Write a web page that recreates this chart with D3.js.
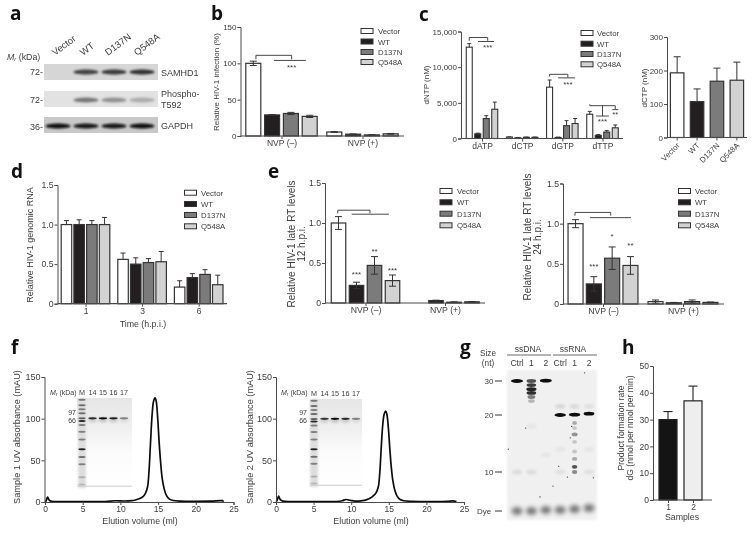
<!DOCTYPE html>
<html><head><meta charset="utf-8">
<style>
html,body{margin:0;padding:0;background:#fff}
svg{display:block;font-family:"Liberation Sans",Arial,sans-serif;filter:blur(0.3px)}
text{fill:#3c3c3c}
</style>
<script src="https://cdn.jsdelivr.net/npm/d3@7/dist/d3.min.js"></script>
</head><body><div id="chart"></div>
<script>
// ---------- data ----------
const seriesNames = ["Vector","WT","D137N","Q548A"];
const seriesFill = ["#ffffff","#231f20","#7b7b7b","#d2d2d2"];

const bGroups = ["NVP (–)","NVP (+)"];
const bValues = [[100,29,31,27],[5.5,2.5,1.5,3]];
const bErrors = [[3,0.5,1.5,1.5],[0.5,0.3,0.3,0.5]];

const cGroups = ["dATP","dCTP","dGTP","dTTP"];
const cValues = [[12800,650,2800,4100],[200,100,170,170],[7200,150,1800,2100],[3400,450,900,1500]];
const cErrors = [[500,100,400,1000],[30,30,30,30],[1000,40,700,700],[400,100,200,400]];

const c2Values = [[193,107,168,171]];
const c2Errors = [[48,38,39,54]];

const dGroups = ["1","3","6"];
const dValues = [[1.0,1.0,1.0,1.0],[0.56,0.50,0.52,0.53],[0.21,0.33,0.37,0.24]];
const dErrors = [[0.05,0.06,0.05,0.09],[0.08,0.08,0.05,0.13],[0.08,0.05,0.06,0.12]];

const e1Values = [[1.0,0.22,0.47,0.28],[0,0.03,0.01,0.015]];
const e1Errors = [[0.08,0.04,0.11,0.07],[0,0.005,0.005,0.003]];
const e2Values = [[1.0,0.25,0.57,0.48],[0.03,0.015,0.03,0.02]];
const e2Errors = [[0.05,0.09,0.14,0.11],[0.02,0.005,0.02,0.005]];

const hNames = ["1","2"];
const hValues = [30,37];
const hErrors = [3,5.5];
const hFill = ["#141414","#eeeeee"];

// significance marks: [group, slot, value, slot, value]
const bMarks = [[0,-1.36,105.5,-1.36,111],[0,-1.36,111,0.54,111],[0,0.54,111,0.54,105.5],[0,-0.4,104,1.3,104]];
const bStars = [[0,0.54,96,"***"]];
const cMarks = [[0,-1.5,13700,-1.5,14160],[0,-1.5,14160,0.67,14160],[0,0.67,14160,0.67,13700],[0,-0.47,13600,1.41,13600],
 [2,-1.5,8700,-1.5,9000],[2,-1.5,9000,0.65,9000],[2,0.65,9000,0.65,8550],[2,-0.5,8500,1.5,8500],
 [3,-1.5,4800,-1.5,4600],[3,-1.5,4600,1.5,4600],[3,1.5,4600,1.5,4100],[3,0,4600,0,3150],[3,-0.75,3150,0.75,3150],[3,1.15,4050,1.85,4050]];
const cStars = [[0,0.67,12950,"***"],[2,0.65,7750,"***"],[3,0,2560,"***"],[3,1.5,3550,"**"]];
const e1Marks = [[0,-1.54,1.12,-1.54,1.16],[0,-1.54,1.16,0.25,1.16],[0,0.25,1.16,0.25,1.12],[0,-0.77,1.11,1.3,1.11]];
const e1Stars = [[0,-0.5,0.38,"***"],[0,0.5,0.66,"**"],[0,1.5,0.425,"***"]];
const e2Marks = [[0,-1.53,1.10,-1.53,1.14],[0,-1.53,1.14,0.42,1.14],[0,0.42,1.14,0.42,1.10],[0,-0.71,1.075,1.53,1.075]];
const e2Stars = [[0,-0.5,0.485,"***"],[0,0.5,0.86,"*"],[0,1.5,0.75,"**"]];

// size-exclusion traces: [volume ml, absorbance mAU]
const f1Trace = [[0,0.5],[0.12,1],[0.25,4],[0.33,6],[0.45,4],[0.6,1.8],[0.9,0.8],[2,0.5],[5,0.4],[8,0.6],[9.3,1.5],[10.5,1.2],[11.5,1.6],[12,2.4],[12.5,3.8],[13,6.5],[13.3,10],[13.6,18],[13.8,38],[14,72],[14.2,104],[14.4,121],[14.6,125],[14.75,121],[14.95,100],[15.15,70],[15.35,46],[15.55,28],[15.8,16],[16.1,8],[16.5,3.5],[17,1.8],[18,1],[20,0.8],[22,1],[23.5,1.6],[23.7,0.5]];
const f2Trace = [[0,0.5],[0.12,1.5],[0.25,5],[0.35,7],[0.45,5],[0.6,2.5],[0.9,1],[2,0.5],[5,0.4],[8,0.6],[8.8,1.5],[9.3,3],[9.9,2],[10.5,1],[11.5,1.6],[12,2.6],[12.5,4.5],[13,8],[13.3,11],[13.6,18],[13.8,35],[14,66],[14.2,93],[14.4,106],[14.6,109],[14.75,105],[14.95,88],[15.15,62],[15.35,40],[15.55,25],[15.8,14],[16.1,7],[16.5,3],[17,1.5],[18,0.8],[20,0.6],[22.8,0.8],[23.5,1.4],[24,0.6]];

// protein gels: mobility (0 top - 100 bottom) and darkness
const markerLanes = ["M","14","15","16","17"];
const markerMobility = [2,8,12.6,17,22.6,25.5,30,37.5,46,57,65.5,73.5,88,96];
const markerDarkness = [0.55,0.6,0.5,0.6,0.65,0.95,0.5,0.5,0.5,1,0.6,0.5,0.25,0.2];
const f1Sample = [0.85,1,0.9,0.45];
const f2Sample = [0.8,1,0.85,0.45];
const f1SampleMobility = 22.6;
const f2SampleMobility = 22.5;

// nuclease gel: [lane, nt, darkness, width factor]
const gLaneLabels = ["Ctrl","1","2","Ctrl","1","2"];
const gSizes = [30,20,10];
const gBands = [[0,30,1,1],[1,30,0.7,0.8],[1,28.8,0.8,0.8],[1,27.6,0.9,0.85],[1,26.5,0.85,0.8],[1,25.3,0.5,0.65],[1,24.1,0.25,0.55],[2,30.1,1,1],
 [3,20,1,0.95],[4,20.1,1,0.95],[5,20.4,1,0.9],
 [4,18.6,0.3,0.4],[4,17.7,0.18,0.4],[4,16.6,0.4,0.5],[4,15.3,0.18,0.4],[4,13.6,0.18,0.4],[4,12.3,0.3,0.45],[4,10.9,0.7,0.45],[4,10,0.45,0.45]];
const gFaint = [[0,10,0.1],[1,10,0.1],[3,10,0.08],[5,10,0.08],[3,22.5,0.12],[4,22.5,0.1],[5,22.5,0.08],[1,18,0.05],[2,13,0.05],[5,14,0.05],[3,14,0.05]];
const gDye = [[0,0],[1,0],[2,0.25],[3,0.25],[4,0.5],[5,0.75]];
const gSpecks = [[-0.6,14],[0.6,17.7],[3.8,18],[3.5,8.7],[2.5,6.4],[1.6,3.6],[5.3,8.5],[4.7,32.4],[3.7,16],[2.9,11]];

// western blots
const blotLanes = ["Vector","WT","D137N","Q548A"];
const blotSamhd1 = [0,0.8,0.85,0.9];
const blotPhospho = [0,0.6,0.45,0.3];
const blotGapdh = [1,0.95,0.95,1];

// ---------- helpers ----------
const W=754,H=533;
const svg=d3.select("#chart").append("svg").attr("width",W).attr("height",H).attr("viewBox",[0,0,W,H]);
const defs=svg.append("defs");
[["b05",0.6],["b1",1],["b2",2],["b3",3.5]].forEach(([id,s])=>defs.append("filter").attr("id",id)
  .attr("x","-50%").attr("y","-200%").attr("width","200%").attr("height","500%")
  .append("feGaussianBlur").attr("stdDeviation",s));
const AX="#4a4a4a";

function txt(g,x,y,s,o={}){
  const t=g.append("text").attr("x",x).attr("y",y).attr("font-size",o.size||8)
    .attr("text-anchor",o.anchor||"middle").text(s);
  if(o.rotate!==undefined) t.attr("transform",`rotate(${o.rotate},${x},${y})`);
  if(o.weight) t.attr("font-weight",o.weight);
  if(o.family) t.style("font-family",o.family);
  if(o.fill) t.style("fill",o.fill);
  return t;
}
function styleAxis(a){
  a.selectAll("path,line").attr("stroke",AX).attr("stroke-width",1);
  a.selectAll("text").style("font-family","inherit").attr("font-size",a.attr("data-size")||8).style("fill","#3c3c3c");
}
function legend(g,x,ys,textX){
  seriesNames.forEach((n,i)=>{
    g.append("rect").attr("x",x).attr("y",ys[i]-2.5).attr("width",12).attr("height",5)
      .attr("fill",seriesFill[i]).attr("stroke","#333").attr("stroke-width",1);
    txt(g,textX,ys[i]+3,n,{anchor:"start",size:7.8});
  });
}
function panel(c){
  const g=svg.append("g");
  const y=d3.scaleLinear().domain(c.domain).range(c.yRange);
  const x0=d3.scalePoint().domain(c.groups).range(c.groupCenters);
  const offset=d3.scaleLinear().domain([-1.5,1.5]).range([-1.5*c.step,1.5*c.step]);
  const base=y(0);
  c.values.forEach((row,gi)=>row.forEach((v,si)=>{
    const cx=x0(c.groups[gi])+offset(si-1.5), top=y(v), e=c.errors[gi][si];
    const col=c.barStroke||"#333";
    g.append("rect").attr("x",cx-c.width/2).attr("y",top).attr("width",c.width).attr("height",Math.max(0,base-top))
      .attr("fill",seriesFill[si]).attr("stroke",col).attr("stroke-width",c.sw||1.1);
    if(e>0){
      const hi=y(v+e), lo=c.both?y(Math.max(0,v-e)):top, cap=c.cap||2.5;
      g.append("line").attr("x1",cx).attr("x2",cx).attr("y1",hi).attr("y2",lo).attr("stroke",col).attr("stroke-width",1);
      g.append("line").attr("x1",cx-cap).attr("x2",cx+cap).attr("y1",hi).attr("y2",hi).attr("stroke",col).attr("stroke-width",1);
      if(c.both) g.append("line").attr("x1",cx-cap).attr("x2",cx+cap).attr("y1",lo).attr("y2",lo).attr("stroke",col).attr("stroke-width",1);
    }
  }));
  const ya=g.append("g").attr("transform",`translate(${c.axisX},0)`).attr("data-size",c.tickSize||8)
    .call(d3.axisLeft(y).tickValues(c.ticks).tickSize(3).tickPadding(1).tickFormat(c.fmt));
  styleAxis(ya);
  g.append("line").attr("x1",c.axisX).attr("x2",c.xEnd).attr("y1",base).attr("y2",base).attr("stroke",AX).attr("stroke-width",1.2);
  if(!c.noXTicks){
    const xa=g.append("g").attr("transform",`translate(0,${base})`)
      .call(d3.axisBottom(x0).tickSize(3).tickPadding(1));
    xa.select(".domain").remove();
    styleAxis(xa);
    xa.selectAll("text").attr("font-size",c.xSize||8);
  }
  const sx=(gi,s)=>x0(c.groups[gi])+offset(s);
  (c.marks||[]).forEach(m=>g.append("line").attr("x1",sx(m[0],m[1])).attr("y1",y(m[2]))
    .attr("x2",sx(m[0],m[3])).attr("y2",y(m[4])).attr("stroke","#333").attr("stroke-width",0.9));
  (c.stars||[]).forEach(s=>txt(g,sx(s[0],s[1]),y(s[2])+4,s[3],{size:8}));
  return {g,y,x0};
}

// ---------- panel letters ----------
const LF={size:19,weight:"700",family:"'Open Sans','Noto Sans',sans-serif",anchor:"start",fill:"#111"};
[["a",10,20],["b",211,20],["c",419,20.5],["d",11,178],["e",268,177.5],["f",11,354],["g",460,354],["h",622,354]]
  .forEach(([s,x,y])=>txt(svg,x,y,s,LF));

// ---------- a: western blots ----------
(function(){
  const g=svg.append("g");
  const lane=d3.scalePoint().domain(blotLanes).range([58,142]);
  const blots=[[blotSamhd1,64,72,"#d6d6d6",0,"#1a1a1a"],[blotPhospho,91,100,"#e2e2e2",0,"#333"],[blotGapdh,117,126,"#c8c8c8",0,"#0a0a0a"]];
  blots.forEach(([vals,top,cy,bg,_,col])=>{
    g.append("rect").attr("x",44).attr("y",top).attr("width",114).attr("height",16).attr("fill",bg).attr("filter","url(#b05)");
    vals.forEach((v,i)=>{ if(v>0) g.append("ellipse").attr("cx",lane(blotLanes[i])).attr("cy",cy)
      .attr("rx",12.5).attr("ry",2.6).attr("fill",col).attr("opacity",v).attr("filter","url(#b1)"); });
  });
  blotLanes.forEach((n,i)=>txt(g,[55,83,108,137][i],56,n,{anchor:"start",rotate:-37,size:9.5}));
  const mr=txt(g,7,60,"",{anchor:"start",size:8.8});
  mr.html('<tspan font-style="italic">M</tspan><tspan font-style="italic" font-size="6" dy="1">r</tspan><tspan dy="-1"> (kDa)</tspan>');
  [["72-",74.5],["72-",103],["36-",129.5]].forEach(([s,y])=>txt(g,43,y,s,{anchor:"end",size:9}));
  [["SAMHD1",75.5],["Phospho-",96.5],["T592",107.5],["GAPDH",129]].forEach(([s,y])=>txt(g,161,y,s,{anchor:"start",size:9}));
})();

// ---------- b ----------
panel({groups:bGroups,values:bValues,errors:bErrors,domain:[0,150],yRange:[136,27],groupCenters:[281.5,362.5],step:18.8,width:15,
  axisX:240.5,xEnd:404,ticks:[0,50,100,150],fmt:d3.format("d"),both:true,cap:3.5,marks:bMarks,stars:bStars,sw:1.2,xSize:8.5});
legend(svg,361,[31,41.5,52,62],378);
txt(svg,219,82,"Relative HIV-1 infection (%)",{rotate:-90,size:8});

// ---------- c ----------
panel({groups:cGroups,values:cValues,errors:cErrors,domain:[0,15000],yRange:[138.5,31.5],groupCenters:[482,602.5],step:8.5,width:6,
  axisX:461,xEnd:623,ticks:[0,5000,10000,15000],fmt:d3.format(","),cap:2,marks:cMarks,stars:cStars,xSize:8.5});
legend(svg,581,[33,43.7,54,64.3],597);
txt(svg,429,85,"dNTP (nM)",{rotate:-90,size:8});

const c2=panel({groups:["dCTP"],values:c2Values,errors:c2Errors,domain:[0,300],yRange:[137.5,37],groupCenters:[707,707],step:19.9,width:13.5,
  axisX:667,xEnd:747,ticks:[0,100,200,300],fmt:d3.format("d"),cap:3.5,noXTicks:true,sw:1.2});
seriesNames.forEach((n,i)=>{
  const x=707+(i-1.5)*19.9;
  c2.g.append("line").attr("x1",x).attr("x2",x).attr("y1",137.5).attr("y2",140.5).attr("stroke",AX);
  txt(c2.g,x+3,146,n,{anchor:"end",rotate:-45,size:7.8});
});
txt(svg,647,88,"dCTP (nM)",{rotate:-90,size:8});

// ---------- d ----------
panel({groups:dGroups,values:dValues,errors:dErrors,domain:[0,1.5],yRange:[303.7,185],groupCenters:[85.5,198.7],step:12.7,width:10.5,
  axisX:57.5,xEnd:227,ticks:[0,0.5,1,1.5],fmt:d=>d===0?"0":d3.format(".1f")(d),cap:2.5,sw:1.2,tickSize:8.7,xSize:8.5});
legend(svg,184.5,[192.7,204,215,226.3],201);
txt(svg,33,245,"Relative HIV-1 genomic RNA",{rotate:-90,size:9});
txt(svg,143,327,"Time (h.p.i.)",{size:8.8});

// ---------- e ----------
const yFmt=d=>d===0?"0":d3.format(".1f")(d);
panel({groups:bGroups,values:e1Values,errors:e1Errors,domain:[0,1.5],yRange:[303,183],groupCenters:[365.5,445],step:18,width:14.5,
  axisX:325,xEnd:485,ticks:[0,0.5,1,1.5],fmt:yFmt,both:true,cap:3.5,marks:e1Marks,stars:e1Stars,sw:1.2,tickSize:8.7,xSize:8.7});
legend(svg,440,[191,202.3,213.7,225.3],457);
txt(svg,295,244,"Relative HIV-1 late  RT levels",{rotate:-90,size:10});
txt(svg,305,244,"12 h.p.i.",{rotate:-90,size:10});

panel({groups:bGroups,values:e2Values,errors:e2Errors,domain:[0,1.5],yRange:[304,183.5],groupCenters:[603,683],step:18.3,width:15,
  axisX:563,xEnd:724,ticks:[0,0.5,1,1.5],fmt:yFmt,both:true,cap:3.5,marks:e2Marks,stars:e2Stars,sw:1.2,tickSize:8.7,xSize:8.7});
legend(svg,678.5,[191,202.3,213.7,225.3],695);
txt(svg,531,237,"Relative HIV-1 late  RT levels",{rotate:-90,size:10});
txt(svg,541,237,"24 h.p.i.",{rotate:-90,size:10});

// ---------- f ----------
function proteinGel(g,box,laneRange,sample,sampleMob,id){
  const grad=defs.append("linearGradient").attr("id",id).attr("x1",0).attr("x2",0).attr("y1",0).attr("y2",1);
  [[0,"#e6e6e6"],[0.35,"#f0f0f0"],[0.6,"#fbfbfb"],[1,"#ffffff"]].forEach(([o,c])=>grad.append("stop").attr("offset",o).attr("stop-color",c));
  g.append("rect").attr("x",box[0]).attr("y",box[1]).attr("width",box[2]).attr("height",box[3]).attr("fill",`url(#${id})`);
  const lane=d3.scalePoint().domain(markerLanes).range(laneRange);
  const mob=d3.scaleLinear().domain([0,100]).range([box[1],box[1]+box[3]]);
  g.append("rect").attr("x",lane("M")-4).attr("y",box[1]).attr("width",8).attr("height",box[3]).attr("fill","#ddd").attr("filter","url(#b1)");
  markerMobility.forEach((m,i)=>g.append("ellipse").attr("cx",lane("M")).attr("cy",mob(m)).attr("rx",3.6).attr("ry",1)
    .attr("fill","#222").attr("opacity",markerDarkness[i]).attr("filter","url(#b05)"));
  sample.forEach((v,i)=>{
    const n=markerLanes[i+1];
    g.append("ellipse").attr("cx",lane(n)).attr("cy",mob(sampleMob)+1.5).attr("rx",4.5).attr("ry",3).attr("fill","#999").attr("opacity",v*0.4).attr("filter","url(#b1)");
    g.append("ellipse").attr("cx",lane(n)).attr("cy",mob(sampleMob)).attr("rx",4.2).attr("ry",1.1).attr("fill","#111").attr("opacity",v).attr("filter","url(#b05)");
  });
  g.append("line").attr("x1",box[0]).attr("x2",box[0]+box[2]).attr("y1",mob(98)).attr("y2",mob(98)).attr("stroke","#ccc").attr("stroke-width",1);
  markerLanes.forEach(n=>txt(g,lane(n),box[1]-3,n,{size:7.2}));
  return {lane,mob};
}
function elution(trace,x0,x1,axisX,ylabel,ylabelX,xlabelX,gelBox,laneRange,sample,sampleMob,id,mrX,numX){
  const g=svg.append("g");
  const x=d3.scaleLinear().domain([0,25]).range([x0,x1]);
  const y=d3.scaleLinear().domain([0,150]).range([502,377]);
  proteinGel(g,gelBox,laneRange,sample,sampleMob,id);
  const line=d3.line().x(d=>x(d[0])).y(d=>y(d[1])).curve(d3.curveCatmullRom.alpha(0.5));
  g.append("path").attr("d",line(trace)).attr("fill","none").attr("stroke","#0c0c0c").attr("stroke-width",1.7);
  const ya=g.append("g").attr("transform",`translate(${axisX},0)`)
    .call(d3.axisLeft(y).tickValues([0,50,100,150]).tickSize(3).tickPadding(1));
  ya.attr("data-size",9); styleAxis(ya);
  const xa=g.append("g").attr("transform","translate(0,502)")
    .call(d3.axisBottom(x).tickValues([0,5,10,15,20,25]).tickSize(3).tickPadding(1));
  xa.attr("data-size",8.5); styleAxis(xa);
  txt(g,ylabelX,437,ylabel,{rotate:-90,size:9.2});
  txt(g,xlabelX,524,"Elution volume (ml)",{size:8.8});
  const mr=txt(g,mrX,395,"",{anchor:"start",size:7});
  mr.html('<tspan font-style="italic">M</tspan><tspan font-style="italic" font-size="5" dy="1">r</tspan><tspan dy="-1"> (kDa)</tspan>');
  txt(g,numX,414.5,"97",{anchor:"end",size:7});
  txt(g,numX,423,"66",{anchor:"end",size:7});
}
elution(f1Trace,45,233.5,44.5,"Sample 1 UV absorbance (mAU)",20,140,[77,398,55,90],[82,124],f1Sample,f1SampleMobility,"g1",50,76);
elution(f2Trace,276,464,276,"Sample 2 UV absorbance (mAU)",253,371,[310,399,52,88],[314,356],f2Sample,f2SampleMobility,"g2",281,307);

// ---------- g: nuclease gel ----------
(function(){
  const g=svg.append("g");
  g.append("rect").attr("x",507).attr("y",370).attr("width",90).attr("height",150).attr("fill","#f0f0f0").attr("filter","url(#b1)");
  const lane=d3.scaleLinear().domain([0,5]).range([517,589]);
  const nt=d3.scaleLinear().domain([30,20,10,0]).range([381,415,472,511]);
  gDye.forEach(([l,v])=>{
    g.append("ellipse").attr("cx",lane(l)).attr("cy",nt(v)).attr("rx",5.5).attr("ry",4).attr("fill","#666").attr("opacity",0.85).attr("filter","url(#b2)");
  });
  gFaint.forEach(([l,v,o])=>g.append("ellipse").attr("cx",lane(l)).attr("cy",nt(v)).attr("rx",5).attr("ry",2.5).attr("fill","#333").attr("opacity",o).attr("filter","url(#b1)"));
  gBands.forEach(([l,v,o,w])=>g.append("ellipse").attr("cx",lane(l)).attr("cy",nt(v)).attr("rx",6*w).attr("ry",1.9)
    .attr("fill","#0a0a0a").attr("opacity",o).attr("filter","url(#b05)"));
  gSpecks.forEach(([l,v])=>g.append("circle").attr("cx",lane(l)).attr("cy",nt(v)).attr("r",0.6).attr("fill","#222"));
  gLaneLabels.forEach((s,i)=>txt(g,lane(i),366,s,{size:8.5}));
  gSizes.forEach(s=>{
    txt(g,489,nt(s)+3,s,{anchor:"middle",size:8});
    g.append("line").attr("x1",495).attr("x2",502).attr("y1",nt(s)).attr("y2",nt(s)).attr("stroke","#333");
  });
  txt(g,484,nt(0)+3,"Dye",{size:8});
  g.append("line").attr("x1",495).attr("x2",502).attr("y1",nt(0)).attr("y2",nt(0)).attr("stroke","#333");
  txt(g,488,356,"Size",{size:8.2}); txt(g,488,366,"(nt)",{size:8.2});
  txt(g,528,352,"ssDNA",{size:8.5}); txt(g,573,352,"ssRNA",{size:8.5});
  [[507,551],[553,597]].forEach(([a,b])=>g.append("line").attr("x1",a).attr("x2",b).attr("y1",355).attr("y2",355).attr("stroke","#444").attr("stroke-width",0.8));
})();

// ---------- h ----------
(function(){
  const g=svg.append("g");
  const x=d3.scalePoint().domain(hNames).range([668,693]);
  const y=d3.scaleLinear().domain([0,50]).range([500,366]);
  hNames.forEach((n,i)=>{
    const cx=x(n);
    g.append("rect").attr("x",cx-9).attr("y",y(hValues[i])).attr("width",18).attr("height",y(0)-y(hValues[i]))
      .attr("fill",hFill[i]).attr("stroke","#222").attr("stroke-width",1.2);
    g.append("line").attr("x1",cx).attr("x2",cx).attr("y1",y(hValues[i])).attr("y2",y(hValues[i]+hErrors[i])).attr("stroke","#222").attr("stroke-width",1.1);
    g.append("line").attr("x1",cx-4.5).attr("x2",cx+4.5).attr("y1",y(hValues[i]+hErrors[i])).attr("y2",y(hValues[i]+hErrors[i])).attr("stroke","#222").attr("stroke-width",1.1);
  });
  const ya=g.append("g").attr("transform","translate(653,0)").call(d3.axisLeft(y).tickValues([0,10,20,30,40,50]).tickSize(3).tickPadding(1));
  ya.attr("data-size",8.5); styleAxis(ya);
  g.append("line").attr("x1",653).attr("x2",712).attr("y1",500).attr("y2",500).attr("stroke",AX).attr("stroke-width",1.2);
  const xa=g.append("g").attr("transform","translate(0,500)").call(d3.axisBottom(x).tickSize(3).tickPadding(1));
  xa.select(".domain").remove(); xa.attr("data-size",8.5); styleAxis(xa);
  txt(g,682,520,"Samples",{size:8.8});
  txt(g,624,428,"Product formation rate",{rotate:-90,size:8.6});
  txt(g,633,428,"dG (nmol per nmol per min)",{rotate:-90,size:8.6});
})();
</script></body></html>
